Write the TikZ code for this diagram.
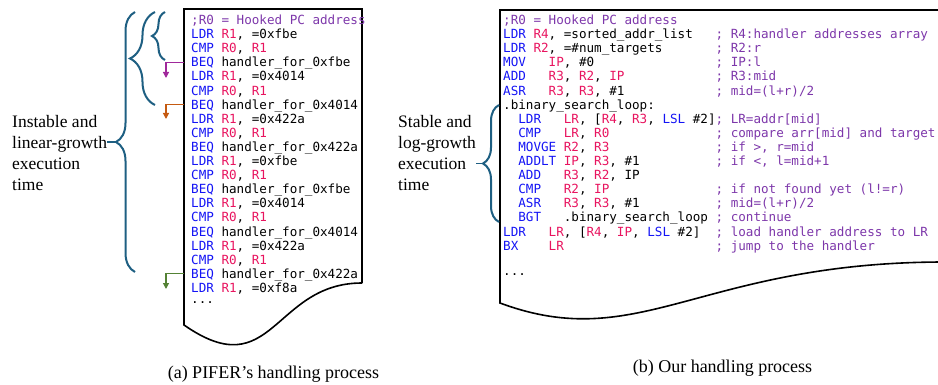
\documentclass[tikz,border=0pt]{standalone}
\usepackage{fontspec}
\setmainfont{Liberation Serif}
\setmonofont{DejaVu Sans Mono}
\usetikzlibrary{arrows.meta,decorations.pathreplacing}

\definecolor{opblue}{RGB}{20,20,245}
\definecolor{regpink}{RGB}{232,20,95}
\definecolor{cmtpurple}{RGB}{125,55,170}
\definecolor{bracecol}{RGB}{30,95,130}
\definecolor{hookpurple}{RGB}{160,40,155}
\definecolor{hookorange}{RGB}{197,90,17}
\definecolor{hookgreen}{RGB}{84,130,53}

\newcommand\opc[1]{\textcolor{opblue}{#1}}
\newcommand\rgn[1]{\textcolor{regpink}{#1}}
\newcommand\cmt[1]{\textcolor{cmtpurple}{#1}}
\frenchspacing

\begin{document}
\begin{tikzpicture}[x=1pt,y=-1pt,
    codeline/.style={anchor=west, inner sep=0pt, text height=11pt, text depth=1.8pt,
      font=\fontsize{12.6}{14.1}\selectfont\ttfamily},
    sidenote/.style={anchor=west, align=left, inner sep=0pt,
      font=\fontsize{17.5}{20.7}\selectfont},
    subcap/.style={inner sep=0pt, font=\fontsize{18}{20}\selectfont},
    docline/.style={line width=1.6pt},
    sidebrace/.style={decorate, draw=bracecol, line width=2pt},
    hookarrow/.style={line width=1.2pt, -{Triangle[length=6pt,width=6pt]}}]
  \useasboundingbox (0,0) rectangle (938,385);

  % left: PIFER
  \draw[docline] (362,283) -- (362,9) -- (184,9) -- (184,325)
    .. controls (273,387) and (273,283) .. (362,283);
  \node[codeline] (l1) at (191,20) {\cmt{;R0 = Hooked PC address}};
  \node[codeline] (l2) at (191,34.1) {\opc{LDR} \rgn{R1}, =0xfbe};
  \node[codeline] (l3) at (191,48.2) {\opc{CMP} \rgn{R0}, \rgn{R1}};
  \node[codeline] (l4) at (191,62.3) {\opc{BEQ} handler\_for\_0xfbe};
  \node[codeline] (l5) at (191,76.4) {\opc{LDR} \rgn{R1}, =0x4014};
  \node[codeline] (l6) at (191,90.5) {\opc{CMP} \rgn{R0}, \rgn{R1}};
  \node[codeline] (l7) at (191,104.6) {\opc{BEQ} handler\_for\_0x4014};
  \node[codeline] (l8) at (191,118.7) {\opc{LDR} \rgn{R1}, =0x422a};
  \node[codeline] (l9) at (191,132.8) {\opc{CMP} \rgn{R0}, \rgn{R1}};
  \node[codeline] (l10) at (191,146.9) {\opc{BEQ} handler\_for\_0x422a};
  \node[codeline] (l11) at (191,161) {\opc{LDR} \rgn{R1}, =0xfbe};
  \node[codeline] (l12) at (191,175.1) {\opc{CMP} \rgn{R0}, \rgn{R1}};
  \node[codeline] (l13) at (191,189.2) {\opc{BEQ} handler\_for\_0xfbe};
  \node[codeline] (l14) at (191,203.3) {\opc{LDR} \rgn{R1}, =0x4014};
  \node[codeline] (l15) at (191,217.4) {\opc{CMP} \rgn{R0}, \rgn{R1}};
  \node[codeline] (l16) at (191,231.5) {\opc{BEQ} handler\_for\_0x4014};
  \node[codeline] (l17) at (191,245.6) {\opc{LDR} \rgn{R1}, =0x422a};
  \node[codeline] (l18) at (191,259.7) {\opc{CMP} \rgn{R0}, \rgn{R1}};
  \node[codeline] (l19) at (191,273.8) {\opc{BEQ} handler\_for\_0x422a};
  \node[codeline] (l20) at (191,287.9) {\opc{LDR} \rgn{R1}, =0xf8a};
  \node[codeline] (l21) at (191,299) {...};

  \coordinate (lboxw) at (184,0);
  \coordinate (hookA) at (166,78);
  \coordinate (hookB) at (166,119);
  \coordinate (hookC) at (166,289);
  \draw[hookarrow, hookpurple] (l4 -| lboxw) -| (hookA);
  \draw[hookarrow, hookorange] (l7 -| lboxw) -| (hookB);
  \draw[hookarrow, hookgreen] (l19 -| lboxw) -| (hookC);

  \draw[sidebrace, decoration={brace, amplitude=13pt}] (165,60) -- (165,12);
  \draw[sidebrace, decoration={brace, amplitude=25pt}] (155,105) -- (155,12);
  \draw[sidebrace, decoration={brace, amplitude=19pt}] (135,272) -- (135,12);
  \coordinate (slowtip) at (116,142);
  \node[sidenote] (slownote) at (12,153) {Instable and\\linear-growth\\execution\\time};
  \draw[bracecol, line width=1.6pt] (slownote.east |- slowtip) -- (slowtip);

  % right: binary search
  \draw[docline] (945,10) -- (500,10) -- (500,303)
    .. controls (640,355) and (700,262) .. (945,262);
  \node[codeline] (r1) at (503,20) {\cmt{;R0 = Hooked PC address}};
  \node[codeline] (r2) at (503,34.1) {\opc{LDR} \rgn{R4}, =sorted\_addr\_list~~~\cmt{; R4:handler addresses array}};
  \node[codeline] (r3) at (503,48.2) {\opc{LDR} \rgn{R2}, =\#num\_targets~~~~~~~\cmt{; R2:r}};
  \node[codeline] (r4) at (503,62.3) {\opc{MOV}~~~\rgn{IP}, \#0~~~~~~~~~~~~~~~~\cmt{; IP:l}};
  \node[codeline] (r5) at (503,76.4) {\opc{ADD}~~~\rgn{R3}, \rgn{R2}, \rgn{IP}~~~~~~~~~~~~\cmt{; R3:mid}};
  \node[codeline] (r6) at (503,90.5) {\opc{ASR}~~~\rgn{R3}, \rgn{R3}, \#1~~~~~~~~~~~~\cmt{; mid=(l+r)/2}};
  \node[codeline] (r7) at (503,104.6) {.binary\_search\_loop:};
  \node[codeline] (r8) at (503,118.7) {~~\opc{LDR}~~~\rgn{LR}, [\rgn{R4}, \rgn{R3}, \opc{LSL} \#2]\cmt{; LR=addr[mid]}};
  \node[codeline] (r9) at (503,132.8) {~~\opc{CMP}~~~\rgn{LR}, \rgn{R0}~~~~~~~~~~~~~~\cmt{; compare arr[mid] and target}};
  \node[codeline] (r10) at (503,146.9) {~~\opc{MOVGE} \rgn{R2}, \rgn{R3}~~~~~~~~~~~~~~\cmt{; if >, r=mid}};
  \node[codeline] (r11) at (503,161) {~~\opc{ADDLT} \rgn{IP}, \rgn{R3}, \#1~~~~~~~~~~\cmt{; if <, l=mid+1}};
  \node[codeline] (r12) at (503,175.1) {~~\opc{ADD}~~~\rgn{R3}, \rgn{R2}, IP};
  \node[codeline] (r13) at (503,189.2) {~~\opc{CMP}~~~\rgn{R2}, \rgn{IP}~~~~~~~~~~~~~~\cmt{; if not found yet (l!=r)}};
  \node[codeline] (r14) at (503,203.3) {~~\opc{ASR}~~~\rgn{R3}, \rgn{R3}, \#1~~~~~~~~~~\cmt{; mid=(l+r)/2}};
  \node[codeline] (r15) at (503,217.4) {~~\opc{BGT}~~~.binary\_search\_loop~\cmt{; continue}};
  \node[codeline] (r16) at (503,231.5) {\opc{LDR}~~~\rgn{LR}, [\rgn{R4}, \rgn{IP}, \opc{LSL} \#2]~~\cmt{; load handler address to LR}};
  \node[codeline] (r17) at (503,245.6) {\opc{BX}~~~~\rgn{LR}~~~~~~~~~~~~~~~~~~~~\cmt{; jump to the handler}};
  \node[codeline] (r18) at (503,270.5) {...};

  \draw[sidebrace, decoration={brace, amplitude=16pt}] (499,222) -- (499,105);
  \coordinate (fasttip) at (483,163.5);
  \node[sidenote] (fastnote) at (398,153) {Stable and\\log-growth\\execution\\time};
  \draw[bracecol, line width=1.6pt] (fastnote.east |- fasttip) -- (fasttip);

  % captions
  \node[subcap] (capa) at (273.5,374.5) {(a) PIFER's handling process};
  \node[subcap] (capb) at (722.5,368.5) {(b) Our handling process};
\end{tikzpicture}
\end{document}
